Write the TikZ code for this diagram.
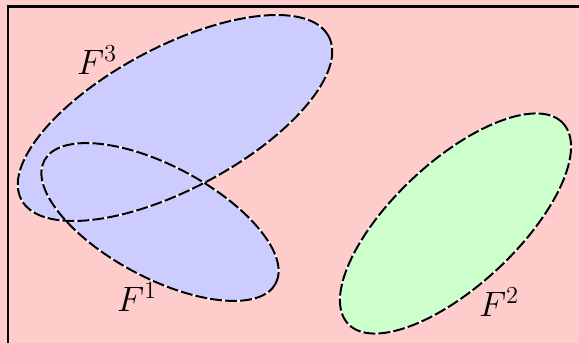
\documentclass[tikz,border=0pt]{standalone}
\usepackage{tikz}
\usetikzlibrary{positioning}

\begin{document}
\begin{tikzpicture}[x=1pt, y=1pt,
  region/.style={line width=2pt, white},
  edge/.style={line width=2pt, black, dash pattern=on 12pt off 3pt},
  lbl/.style={font=\huge, scale=1.7}]
\useasboundingbox (0,0) rectangle (579,343);
\clip (0,0) rectangle (579,343);
% background
\fill[red!20] (0,0) rectangle (579,343);
\draw[line width=2.5pt] (8,-20) -- (8,336.5) -- (600,336.5);
% fills
\fill[blue!20, rotate around={28:(175,225)}] (175,225) ellipse [x radius=174, y radius=71];
\fill[blue!20, rotate around={-28:(160,121)}] (160,121) ellipse [x radius=131, y radius=56];
\fill[green!20, rotate around={43:(455.5,119.5)}] (455.5,119.5) ellipse [x radius=147, y radius=62];
% outlines
\foreach \sty in {region, edge} {
  \draw[\sty, rotate around={28:(175,225)}] (175,225) ellipse [x radius=174, y radius=71];
  \draw[\sty, rotate around={-28:(160,121)}] (160,121) ellipse [x radius=131, y radius=56];
  \draw[\sty, rotate around={43:(455.5,119.5)}] (455.5,119.5) ellipse [x radius=147, y radius=62];
}
% labels
\node[lbl] (F3) at (97,283) {$F^3$};
\node[lbl] (F1) at (137,46) {$F^1$};
\node[lbl] (F2) at (499,41) {$F^2$};
\end{tikzpicture}
\end{document}
